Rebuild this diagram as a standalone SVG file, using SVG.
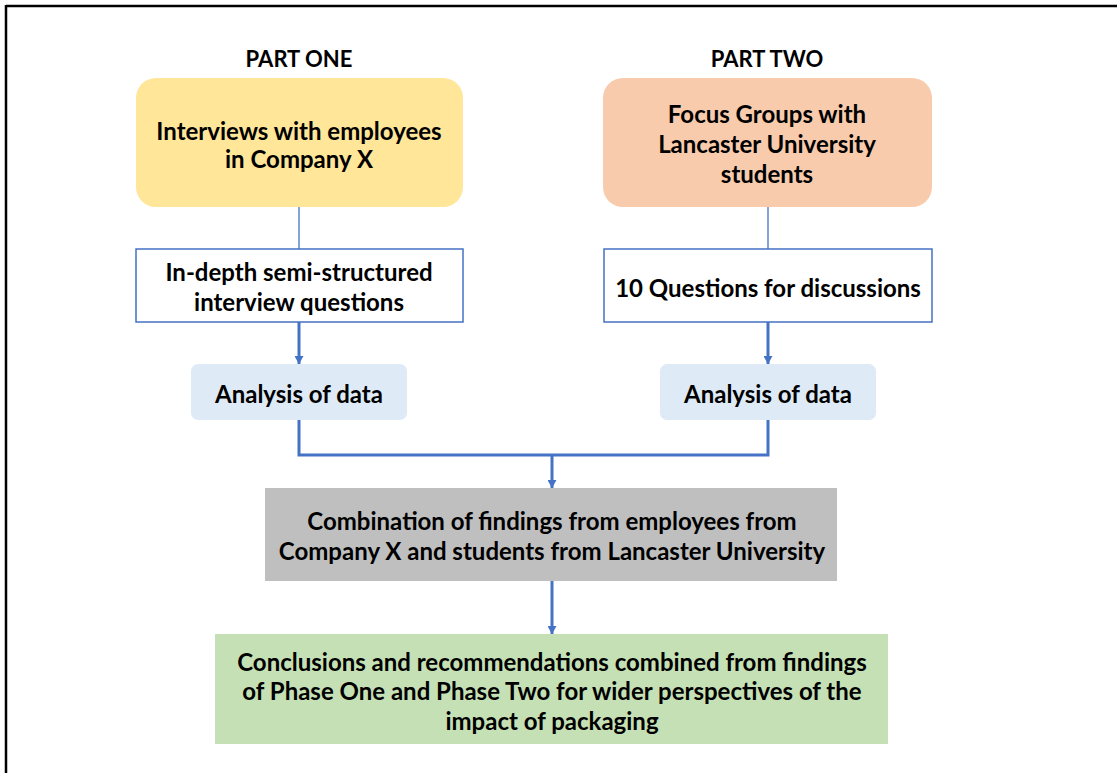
<svg xmlns="http://www.w3.org/2000/svg" width="1117" height="773" viewBox="0 0 1117 773">
<style>
text{font-family:Lato,"Open Sans","Liberation Sans",sans-serif;font-weight:bold;font-size:24px;fill:#000;text-anchor:middle;dominant-baseline:central}
.title{font-size:22px}
.thin{stroke:#4472C4;stroke-width:1.3;fill:none}
.thick{stroke:#4472C4;stroke-width:3;fill:none}
.box{fill:#fff;stroke:#4472C4;stroke-width:1.5}
.ana{fill:#DEEBF7}
</style>
<defs>
<marker id="ah" markerUnits="userSpaceOnUse" markerWidth="8" markerHeight="9" viewBox="0 0 8 9" refX="8" refY="4.5" orient="auto"><path d="M0,0 L8,4.5 L0,9 Z" fill="#4472C4"/></marker>
</defs>
<rect width="1117" height="773" fill="#fff"/>
<g id="frame">
<line x1="6" y1="6" x2="1117" y2="6" stroke="#000" stroke-width="2.5"/>
<line x1="6" y1="5" x2="6" y2="773" stroke="#000" stroke-width="2.5"/>
</g>
<g id="titles">
<text class="title" x="299" y="58">PART ONE</text>
<text class="title" x="767" y="58">PART TWO</text>
</g>
<g id="connectors">
<line class="thin" x1="299" y1="207" x2="299" y2="249"/>
<line class="thin" x1="768" y1="207" x2="768" y2="249"/>
<line class="thick" x1="299" y1="322" x2="299" y2="364" marker-end="url(#ah)"/>
<line class="thick" x1="768" y1="322" x2="768" y2="364" marker-end="url(#ah)"/>
<polyline class="thick" points="299,420 299,455 768,455 768,420"/>
<line class="thick" x1="552" y1="455" x2="552" y2="488" marker-end="url(#ah)"/>
<line class="thick" x1="552" y1="581" x2="552" y2="634" marker-end="url(#ah)"/>
</g>
<g id="n1">
<rect x="136" y="78" width="327" height="129" rx="20" fill="#FFE699"/>
<text x="299" y="130">Interviews with employees</text>
<text x="299" y="158">in Company X</text>
</g>
<g id="n2">
<rect x="603" y="78" width="329" height="129" rx="20" fill="#F8CBAD"/>
<text x="767" y="113">Focus Groups with</text>
<text x="767" y="143">Lancaster University</text>
<text x="767" y="173">students</text>
</g>
<g id="n3">
<rect class="box" x="136" y="249" width="327" height="73"/>
<text x="299" y="271">In-depth semi-structured</text>
<text x="299" y="301">interview questions</text>
</g>
<g id="n4">
<rect class="box" x="604" y="249" width="328" height="73"/>
<text x="768" y="287">10 Questions for discussions</text>
</g>
<g id="n5">
<rect class="ana" x="191" y="364" width="216" height="56" rx="7"/>
<text x="299" y="393">Analysis of data</text>
</g>
<g id="n6">
<rect class="ana" x="660" y="364" width="216" height="56" rx="7"/>
<text x="768" y="393">Analysis of data</text>
</g>
<g id="n7">
<rect x="265" y="488" width="572" height="93" fill="#BFBFBF"/>
<text x="552" y="520">Combination of findings from employees from</text>
<text x="552" y="550">Company X and students from Lancaster University</text>
</g>
<g id="n8">
<rect x="215" y="634" width="673" height="110" fill="#C5E0B4"/>
<text x="552" y="661">Conclusions and recommendations combined from findings</text>
<text x="552" y="690">of Phase One and Phase Two for wider perspectives of the</text>
<text x="552" y="720">impact of packaging</text>
</g>
</svg>
